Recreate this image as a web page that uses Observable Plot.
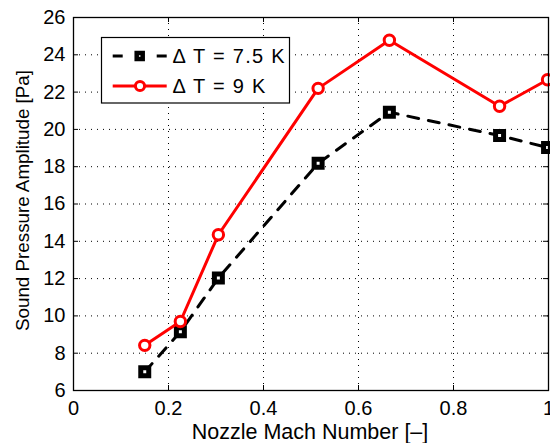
<!DOCTYPE html>
<html>
<head>
<meta charset="utf-8">
<script src="https://cdn.jsdelivr.net/npm/d3@7"></script>
<script src="https://cdn.jsdelivr.net/npm/@observablehq/plot@0.6"></script>
<style>
  html, body { margin: 0; padding: 0; background: #fff; }
  #chart { position: relative; width: 550px; height: 443px; }
</style>
</head>
<body>
<div id="chart"></div>
<script>
const mach = [0.15, 0.225, 0.305, 0.515, 0.665, 0.897, 0.998];
const amp75 = [7.0, 9.15, 12.03, 18.18, 20.92, 19.67, 19.03];
const amp9 = [8.42, 9.7, 14.35, 22.2, 24.78, 21.24, 22.66];
const seriesNames = ["\u0394 T = 7.5 K", "\u0394 T = 9 K"];
const xTicks = [0, 0.2, 0.4, 0.6, 0.8, 1];
const yTicks = [6, 8, 10, 12, 14, 16, 18, 20, 22, 24, 26];
const xLabel = "Nozzle Mach Number [\u2013]";
const yLabel = "Sound Pressure Amplitude [Pa]";

const d75 = mach.map((m, i) => ({x: m, y: amp75[i]}));
const d9 = mach.map((m, i) => ({x: m, y: amp9[i]}));

const W = 550, H = 443;
const mL = 73, mR = 2, mT = 17, mB = 53;
const font = "'Liberation Sans', Arial, Helvetica, sans-serif";
const tickLenY = 5 / ((H - mT - mB) / 20);
const tickLenX = 5 / ((W - mL - mR) / 1);

const plot = Plot.plot({
  width: W, height: H,
  marginLeft: mL, marginRight: mR, marginTop: mT, marginBottom: mB,
  style: {fontFamily: font, fontSize: "20px", color: "black", background: "white"},
  x: {domain: [0, 1]},
  y: {domain: [6, 26]},
  marks: [
    Plot.gridX(xTicks.slice(1, -1), {stroke: "black", strokeOpacity: 1, strokeWidth: 1, strokeDasharray: "1,5"}),
    Plot.gridY(yTicks.slice(1, -1), {stroke: "black", strokeOpacity: 1, strokeWidth: 1, strokeDasharray: "1,5"}),
    // inward tick marks on all four sides
    Plot.ruleX(xTicks, {x: d => d, y1: 6, y2: 6 + tickLenY, stroke: "black", strokeWidth: 1}),
    Plot.ruleX(xTicks, {x: d => d, y1: 26, y2: 26 - tickLenY, stroke: "black", strokeWidth: 1}),
    Plot.ruleY(yTicks, {y: d => d, x1: 0, x2: tickLenX, stroke: "black", strokeWidth: 1}),
    Plot.ruleY(yTicks, {y: d => d, x1: 1, x2: 1 - tickLenX, stroke: "black", strokeWidth: 1}),
    Plot.axisX(xTicks, {tickSize: 0, tickPadding: 10, label: null, tickFormat: d => String(d), fontSize: 20}),
    Plot.axisY(yTicks, {tickSize: 0, tickPadding: 8, label: null, fontSize: 20}),
    Plot.line(d75, {x: "x", y: "y", stroke: "black", strokeWidth: 3, strokeDasharray: "11,10"}),
    Plot.dot(d75, {x: "x", y: "y", symbol: "square", r: 4.5, fill: "white", stroke: "black", strokeWidth: 5}),
    Plot.line(d9, {x: "x", y: "y", stroke: "#ff0000", strokeWidth: 3}),
    Plot.dot(d9, {x: "x", y: "y", symbol: "circle", r: 5.2, fill: "white", stroke: "#ff0000", strokeWidth: 3}),
    Plot.frame({stroke: "black", strokeWidth: 1.3})
  ]
});

document.getElementById("chart").appendChild(plot);

const svg = d3.select(plot);
svg.append("text")
  .attr("x", 310).attr("y", 439)
  .attr("text-anchor", "middle")
  .style("font-family", font).style("font-size", "21.5px")
  .text(xLabel);
svg.append("text")
  .attr("transform", `translate(29, ${mT + (H - mT - mB) / 2 - 3}) rotate(-90)`)
  .attr("text-anchor", "middle")
  .style("font-family", font).style("font-size", "18.8px")
  .text(yLabel);

// legend
const lg = svg.append("g").attr("transform", "translate(101.5, 37.5)");
lg.append("rect").attr("width", 188).attr("height", 65.5)
  .attr("fill", "white").attr("stroke", "black").attr("stroke-width", 1.2);
const rows = [
  {y: 18.5, color: "black", dash: "10,34", marker: "square"},
  {y: 48.5, color: "#ff0000", dash: null, marker: "circle"}
];
rows.forEach((r, i) => {
  const ln = lg.append("line").attr("x1", 11.2).attr("x2", 65.2).attr("y1", r.y).attr("y2", r.y)
    .attr("stroke", r.color).attr("stroke-width", 3);
  if (r.dash) ln.attr("stroke-dasharray", r.dash);
  if (r.marker === "square") {
    lg.append("rect").attr("x", 38.2 - 3).attr("y", r.y - 3).attr("width", 6).attr("height", 6)
      .attr("fill", "white").attr("stroke", "black").attr("stroke-width", 4.5);
  } else {
    lg.append("circle").attr("cx", 38.5).attr("cy", r.y).attr("r", 4.6)
      .attr("fill", "white").attr("stroke", "#ff0000").attr("stroke-width", 3);
  }
  lg.append("text").attr("x", 71).attr("y", r.y + 7.3)
    .attr("text-anchor", "start")
    .style("font-family", font).style("font-size", "20px")
    .style("letter-spacing", "1.3px")
    .text(seriesNames[i]);
});
</script>
</body>
</html>
